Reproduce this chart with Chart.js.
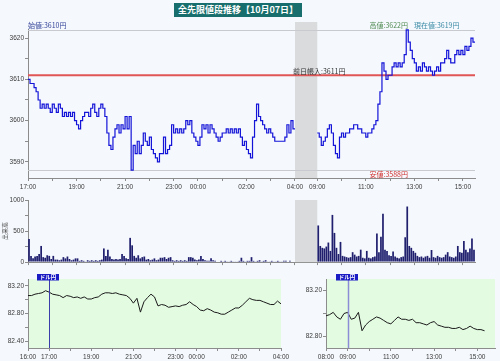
<!DOCTYPE html>
<html><head><meta charset="utf-8">
<script src="https://cdn.jsdelivr.net/npm/chart.js@4/dist/chart.umd.min.js"></script>
<style>
html,body{margin:0;padding:0;background:#f5f8fc;width:500px;height:361px;overflow:hidden;position:relative;}
canvas{position:absolute;display:block;}
#title{position:absolute;left:174px;top:3px;width:128px;height:14px;background:#176e6c;color:#fff;font:bold 9px "Noto Sans CJK JP";line-height:14px;text-align:center;white-space:nowrap;z-index:5;}
</style></head><body>
<canvas id="main" width="500" height="195" style="left:0;top:0"></canvas>
<canvas id="vol" width="500" height="72" style="left:0;top:195px"></canvas>
<canvas id="fxn" width="300" height="96" style="left:0;top:265px"></canvas>
<canvas id="fxd" width="202" height="96" style="left:298px;top:265px"></canvas>
<div id="title">全先限値段推移【10月07日】</div>
<script>
// ---------- DATA ----------
const OPEN = 3610, HIGH = 3622, LOW = 3588, LAST = 3619, PREV_SETTLE = 3611;
// night session price, every 5 minutes 17:00 .. 04:00
const priceNight = [
 3610,3609,3609,3608,3607,3605,3603,3604,3603,3604,3603,3602,
 3604,3603,3602,3604,3603,3601,3602,3601,3602,3601,3602,3600,
 3599,3598,3600,3601,3602,3602,3601,3603,3604,3602,3601,3603,
 3604,3603,3601,3597,3594,3593,3596,3598,3599,3597,3599,3598,
 3601,3598,3601,3588,3594,3592,3595,3592,3594,3597,3595,3594,
 3596,3593,3592,3591,3590,3592,3592,3596,3592,3593,3594,3599,
 3597,3598,3597,3598,3597,3598,3600,3599,3600,3597,3596,3595,
 3594,3596,3599,3598,3599,3597,3599,3598,3597,3596,3595,3596,
 3597,3597,3598,3597,3598,3597,3598,3597,3598,3596,3594,3595,
 3593,3592,3591,3596,3600,3604,3601,3600,3599,3598,3597,3598,
 3597,3596,3595,3595,3595,3595,3595,3596,3599,3597,3600,3598,
 3598];
// day session price, every 5 minutes 09:00 .. 15:30
const priceDay = [
 3597,3596,3594,3595,3596,3598,3599,3597,3594,3592,3591,3596,
 3597,3596,3597,3597,3598,3598,3599,3599,3598,3598,3597,3597,
 3596,3597,3597,3598,3599,3600,3604,3607,3614,3612,3610,3611,
 3611,3613,3614,3613,3614,3613,3614,3616,3622,3619,3617,3615,
 3614,3612,3613,3612,3614,3613,3612,3613,3612,3611,3612,3613,
 3612,3614,3614,3615,3617,3615,3614,3614,3616,3617,3616,3617,
 3616,3618,3617,3618,3620,3619,3619];
// volume per 5-minute bin, night 17:00 .. 03:55
const volNight = [
 370,100,60,90,100,130,260,80,70,110,100,50,
 100,40,40,30,40,80,60,90,50,30,40,60,
 60,20,30,20,10,30,20,30,20,30,20,30,
 40,220,100,200,90,50,40,50,40,50,130,100,
 60,50,390,270,100,70,110,60,80,90,40,50,
 30,40,60,30,40,70,70,80,50,70,80,30,
 20,30,20,30,20,30,20,80,80,70,40,30,
 40,100,50,30,20,20,60,30,20,10,10,20,
 10,20,10,10,20,10,10,10,20,70,20,10,
 20,20,80,20,10,20,30,10,20,30,10,10,
 20,10,10,20,10,10,20,20,10,20,10,10];
// volume per 5-minute bin, day 09:00 .. 15:25
const volDay = [
 590,260,230,220,250,315,180,760,470,230,130,325,
 100,90,80,70,80,160,120,90,100,200,70,60,
 180,70,60,80,90,460,160,410,780,200,180,110,
 100,170,90,70,60,80,90,400,895,260,230,180,
 150,100,80,90,70,90,100,70,195,80,70,100,
 80,70,80,120,160,90,80,70,90,260,160,150,
 340,200,160,220,380,200];
// USD/JPY every 10 minutes, 16:00 .. 04:00
const fxNight = [
 83.06,83.06,83.08,83.09,83.10,83.13,83.11,83.08,83.07,83.06,83.03,83.06,
 83.05,83.03,83.04,83.02,83.04,83.01,83.01,83.03,83.04,83.08,83.10,83.10,
 83.09,83.10,83.08,83.07,83.06,83.02,82.95,83.02,82.82,82.97,83.03,83.08,
 83.04,82.91,82.93,82.92,82.89,82.90,82.91,82.90,82.92,82.93,82.97,82.93,
 82.90,82.85,82.84,82.87,82.85,82.82,82.81,82.79,82.79,82.82,82.85,82.88,
 82.88,82.92,82.97,83.02,83.00,82.99,82.99,82.97,82.95,82.93,82.93,82.98,
 82.94];
// USD/JPY every 10 minutes, 08:00 .. 15:20
const fxDay = [
 82.98,82.99,83.01,82.97,82.95,83.00,83.01,82.95,82.96,83.01,82.85,82.90,
 82.93,82.95,82.97,82.96,82.94,82.92,82.91,82.94,82.97,82.95,82.95,82.94,
 82.95,82.92,82.92,82.91,82.90,82.92,82.93,82.90,82.89,82.88,82.88,82.87,
 82.87,82.88,82.86,82.87,82.89,82.87,82.86,82.86,82.85];
// tick labels
const mainTickLabels = ["17:00","19:00","21:00","23:00","00:00","02:00","04:00","09:00","11:00","13:00","15:00"];
const priceYLabels = [3590,3600,3610,3620];
const volYLabels = [0,500,1000];
const fxNightTickLabels = ["16:00","17:00","19:00","21:00","23:00","00:00","02:00","04:00"];
const fxDayTickLabels = ["08:00","09:00","11:00","13:00","15:00"];
const fxNightYLabels = ["82.40","82.80","83.20"];
const fxDayYLabels = ["82.80","83.20"];
const FX_NAME = "ドル円";

// ---------- LAYOUT CONSTANTS ----------
const STEP = 5;                 // minutes per price/volume sample
const NIGHT_LEN = 660;          // 17:00 -> 04:00
const DAY_OFFSET = 715;         // axis position of 09:00 (gap compressed)
const DAY_END = 390;            // 09:00 -> 15:30
const FX_STEP = 10;

const AX = '#8c8c8c';
const TF = {family:'"Liberation Sans", Arial, sans-serif', size:6.5};
const TC = '#3a3a3a';
const JP = '"Noto Sans CJK JP", sans-serif';
const pad2 = n => String(n).padStart(2,'0');
const hm = h => pad2(((h%24)+24)%24) + ':00';

function rangeTicks(min, max, step){
  const out=[]; const k0=Math.ceil(min/step-1e-9), k1=Math.floor(max/step+1e-9);
  for(let k=k0;k<=k1;k++) out.push({value: Math.round(k*step*1000)/1000});
  return out;
}
const baseOpts = {responsive:false, animation:false, devicePixelRatio:1,
  plugins:{legend:{display:false}, tooltip:{enabled:false}}, events:[]};

// ---------- MAIN PRICE CHART ----------
function mainLabel(v){
  const h = v <= NIGHT_LEN ? 17 + v/60 : 9 + (v-DAY_OFFSET)/60;
  const s = hm(h);
  return mainTickLabels.includes(s) ? s : '';
}
function mainHourTicks(){
  const t=[];
  for(let m=0;m<=NIGHT_LEN;m+=60) t.push({value:m});
  for(let m=0;m<=DAY_END;m+=60) t.push({value:DAY_OFFSET+m});
  return t;
}
function gapRect(chart, extraTop){
  const {ctx, chartArea:a, scales:{x}} = chart;
  const g0 = x.getPixelForValue(NIGHT_LEN), g1 = x.getPixelForValue(DAY_OFFSET);
  ctx.save(); ctx.fillStyle = '#d9dbdc';
  ctx.fillRect(g0, a.top - extraTop, g1 - g0, a.bottom - a.top + extraTop);
  ctx.restore();
}
const mainDecor = {
  id:'mainDecor',
  beforeDatasetsDraw(chart){
    const {ctx, chartArea:a, scales:{y}} = chart;
    gapRect(chart, 7);
    ctx.save();
    ctx.strokeStyle = '#c8cad0'; ctx.lineWidth = 1;
    [HIGH, LOW].forEach(v=>{ const py=Math.round(y.getPixelForValue(v))+0.5;
      ctx.beginPath(); ctx.moveTo(a.left,py); ctx.lineTo(a.right,py); ctx.stroke(); });
    ctx.strokeStyle = '#e05555'; ctx.lineWidth = 2;
    const ry = y.getPixelForValue(PREV_SETTLE);
    ctx.beginPath(); ctx.moveTo(a.left,ry); ctx.lineTo(a.right,ry); ctx.stroke();
    ctx.restore();
  },
  afterDatasetsDraw(chart){
    const {ctx, chartArea:a, scales:{x,y}} = chart;
    ctx.save();
    ctx.font = '7px ' + JP; ctx.textBaseline = 'alphabetic';
    const hy = y.getPixelForValue(HIGH);
    ctx.textAlign='left'; ctx.fillStyle='#34449a';
    ctx.fillText('始値:' + OPEN + '円', a.left, hy - 1.5);
    ctx.textAlign='right'; ctx.fillStyle='#4f8a52';
    ctx.fillText('高値:' + HIGH + '円', a.right - 67, hy - 1.5);
    ctx.textAlign='left'; ctx.fillStyle='#3a8aa6';
    ctx.fillText('現在値:' + LAST + '円', a.right - 61, hy - 1.5);
    ctx.fillStyle='#333';
    ctx.fillText('前日帳入:' + PREV_SETTLE + '円', x.getPixelForValue(NIGHT_LEN) - 2, y.getPixelForValue(PREV_SETTLE) - 1.5);
    ctx.textAlign='right'; ctx.fillStyle='#d03030';
    ctx.fillText('安値:' + LOW + '円', a.right - 67, y.getPixelForValue(LOW) + 6.5);
    ctx.restore();
  }
};
new Chart(document.getElementById('main'), {
  type:'line',
  data:{datasets:[
    {data: priceNight.map((v,i)=>({x:i*STEP, y:v})), stepped:true, borderColor:'#1414d8', borderWidth:1.2, pointRadius:0, fill:false},
    {data: priceDay.map((v,i)=>({x:DAY_OFFSET+i*STEP, y:v})), stepped:true, borderColor:'#1414d8', borderWidth:1.2, pointRadius:0, fill:false}
  ]},
  options:{...baseOpts,
    layout:{padding:{top:29,right:25,left:0,bottom:0}},
    scales:{
      x:{type:'linear', min:0, max:DAY_OFFSET+DAY_END,
        afterBuildTicks:s=>{s.ticks=mainHourTicks();},
        afterFit:s=>{s.height=17;},
        ticks:{autoSkip:false, maxRotation:0, font:TF, color:TC, padding:2, callback:v=>mainLabel(v)},
        grid:{drawOnChartArea:false, color:AX, tickLength:3}, border:{color:AX}},
      y:{min:3586.1, max:3622.2,
        afterBuildTicks:s=>{s.ticks=rangeTicks(3586.1,3622.2,5);},
        afterFit:s=>{s.width=28;},
        ticks:{font:TF, color:TC, padding:1, callback:v=>priceYLabels.includes(v)?String(v):''},
        grid:{drawOnChartArea:false, color:AX, tickLength:3}, border:{color:AX}}
    }},
  plugins:[mainDecor]
});

// ---------- VOLUME CHART ----------
const volPoints = volNight.map((v,i)=>({x:i*STEP+STEP/2, y:v}))
  .concat(volDay.map((v,i)=>({x:DAY_OFFSET+i*STEP+STEP/2, y:v})));
new Chart(document.getElementById('vol'), {
  type:'bar',
  data:{datasets:[{data:volPoints, backgroundColor:'#1f1f6e', borderColor:'#2a2a2a', borderWidth:0, barPercentage:0.85, categoryPercentage:1}]},
  options:{...baseOpts,
    layout:{padding:{top:5,right:25,left:0,bottom:0}},
    scales:{
      x:{type:'linear', min:0, max:DAY_OFFSET+DAY_END, offset:false,
        afterBuildTicks:s=>{s.ticks=mainHourTicks();},
        afterFit:s=>{s.height=4;},
        ticks:{display:false},
        grid:{drawOnChartArea:false, offset:false, color:AX, tickLength:3}, border:{color:AX}},
      y:{min:0, max:1000,
        afterBuildTicks:s=>{s.ticks=rangeTicks(0,1000,250);},
        afterFit:s=>{s.width=28;},
        title:{display:true, text:'出来高', font:{family:JP, size:6}, color:'#444', padding:{top:1,bottom:0}},
        ticks:{font:TF, color:TC, padding:1, callback:v=>volYLabels.includes(v)?String(v):''},
        grid:{drawOnChartArea:false, color:AX, tickLength:3}, border:{color:AX}}
    }},
  plugins:[{id:'volGap', beforeDatasetsDraw(chart){ gapRect(chart, 0); }}]
});

// ---------- FX CHARTS ----------
function fxDecor(markMin, lineColor, lineW){
  return {
    id:'fxDecor',
    beforeDraw(chart){
      const {ctx, chartArea:a} = chart;
      ctx.save(); ctx.fillStyle='#e3fbe1'; ctx.fillRect(a.left, a.top, a.right-a.left, a.bottom-a.top); ctx.restore();
    },
    afterDatasetsDraw(chart){
      const {ctx, chartArea:a, scales:{x}} = chart;
      const px = Math.round(x.getPixelForValue(markMin)) + 0.5;
      ctx.save();
      ctx.strokeStyle=lineColor; ctx.lineWidth=lineW;
      ctx.beginPath(); ctx.moveTo(px, a.top-4); ctx.lineTo(px, a.bottom); ctx.stroke();
      ctx.fillStyle='#1c1cc4';
      ctx.fillRect(px-12.5, a.top-5, 22, 6.5);
      ctx.fillStyle='#fff'; ctx.font='bold 5.5px ' + JP; ctx.textAlign='center'; ctx.textBaseline='middle';
      ctx.fillText(FX_NAME, px-1.5, a.top-1.6);
      ctx.restore();
    }
  };
}
function fxChart(id, data, startHour, maxMin, labels, yMin, yMax, yLabels, padRight, markMin, lc, lw){
  return new Chart(document.getElementById(id), {
    type:'line',
    data:{datasets:[{data:data.map((v,i)=>({x:i*FX_STEP, y:v})), borderColor:'#1a1a1a', borderWidth:1, pointRadius:0, tension:0, fill:false}]},
    options:{...baseOpts,
      layout:{padding:{top:14,right:padRight,left:0,bottom:0}},
      scales:{
        x:{type:'linear', min:0, max:maxMin,
          afterBuildTicks:s=>{s.ticks=rangeTicks(0,maxMin,60);},
          afterFit:s=>{s.height=13;},
          ticks:{autoSkip:false, maxRotation:0, font:TF, color:TC, padding:2,
            callback:v=>{const t=hm(startHour+v/60); return labels.includes(t)?t:'';}},
          grid:{drawOnChartArea:false, color:AX, tickLength:3}, border:{color:AX}},
        y:{min:yMin, max:yMax,
          afterBuildTicks:s=>{s.ticks=rangeTicks(yMin,yMax,0.2);},
          afterFit:s=>{s.width=28;},
          ticks:{font:TF, color:TC, padding:1, callback:v=>{const t=Number(v).toFixed(2); return yLabels.includes(t)?t:'';}},
          grid:{drawOnChartArea:false, color:AX, tickLength:3}, border:{color:AX}}
      }},
    plugins:[fxDecor(markMin, lc, lw)]
  });
}
fxChart('fxn', fxNight, 16, 720, fxNightTickLabels, 82.30, 83.30, fxNightYLabels, 19, 60, '#3c3caa', 1);
fxChart('fxd', fxDay, 8, 469, fxDayTickLabels, 82.70, 83.30, fxDayYLabels, 5, 60, '#8c8cd6', 1.5);
</script>
</body></html>
